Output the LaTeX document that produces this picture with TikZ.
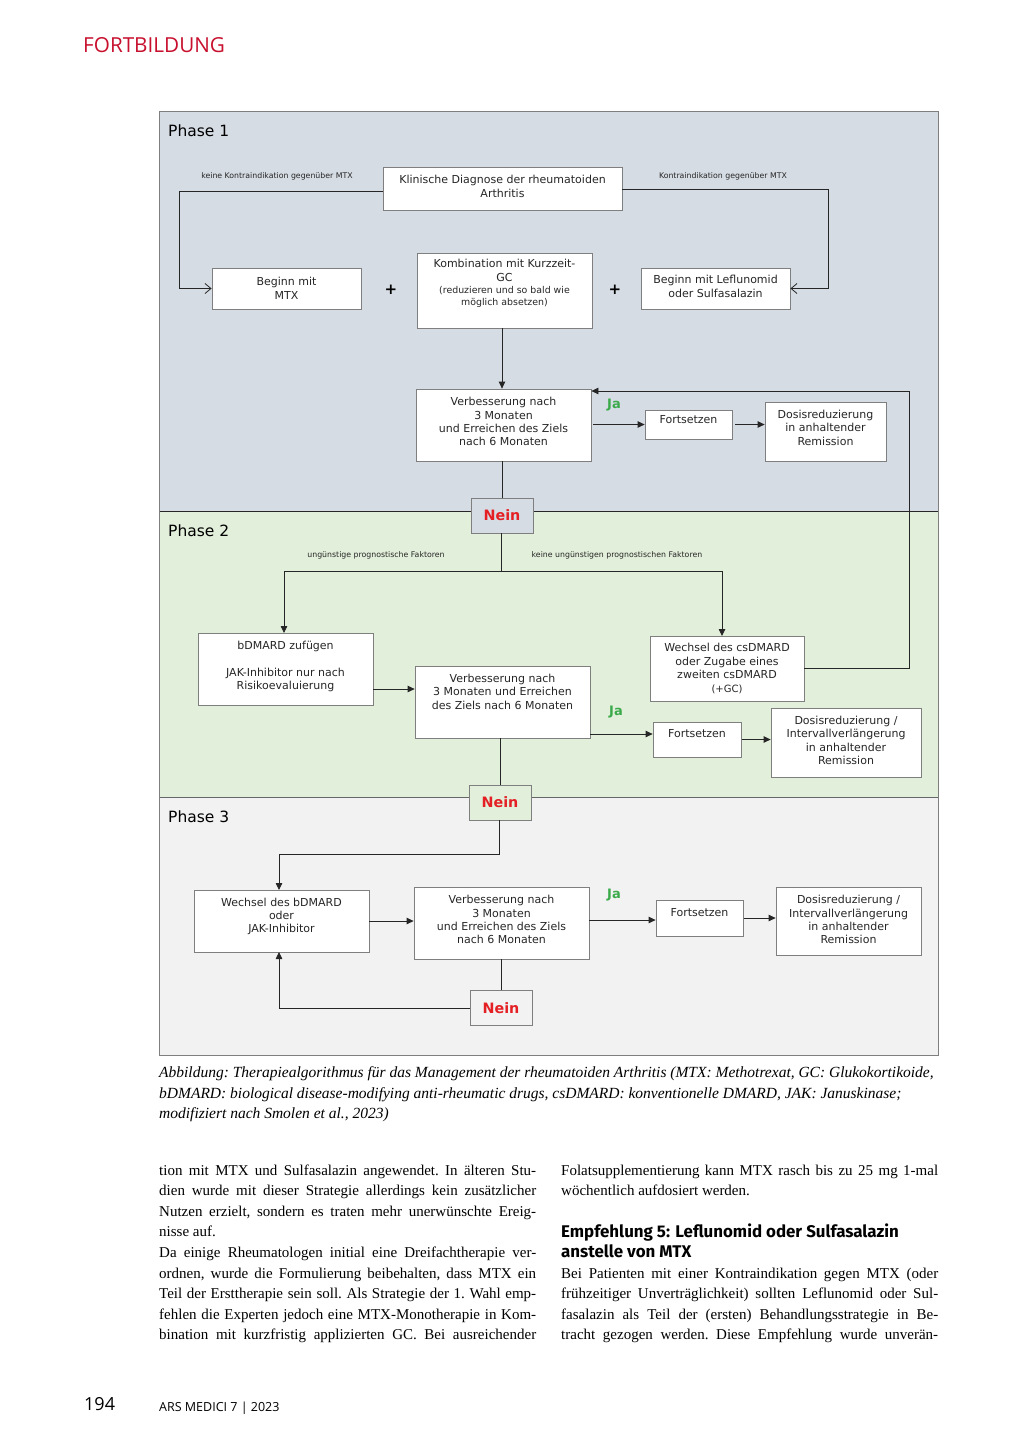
\documentclass[tikz,border=0pt]{standalone}
\usepackage{fontspec}
\setmainfont{Liberation Serif}
\newfontfamily\dfont{DejaVu Sans}
\newfontfamily\hfont{Fira Sans}
\newfontfamily\ofont{Open Sans}
\usetikzlibrary{arrows.meta,calc}
\definecolor{pone}{HTML}{D6DCE4}
\definecolor{ptwo}{HTML}{E2EFDA}
\definecolor{pthree}{HTML}{F2F2F2}
\definecolor{boxgray}{HTML}{7F7F7F}
\definecolor{linec}{HTML}{262626}
\definecolor{neinred}{HTML}{E42025}
\definecolor{jagreen}{HTML}{3BAA4B}
\definecolor{headred}{HTML}{C8102E}
\newcommand\myjl[1]{\makebox[377pt][s]{#1}}
\newcommand\smtxt[1]{{\fontsize{9.4}{12}\selectfont #1}}
\begin{document}
\begin{tikzpicture}[x=1pt,y=-1pt,
  box/.style={draw=boxgray, line width=0.8pt, fill=white, inner sep=1pt, align=center,
    font=\dfont\fontsize{11}{13.4}\selectfont, text=black!85},
  neinbox/.style={draw=boxgray, line width=0.8pt, inner sep=0pt, minimum width=62pt,
    minimum height=35pt, font=\dfont\bfseries\fontsize{14.3}{16}\selectfont, text=neinred},
  conn/.style={draw=linec, line width=0.8pt},
  arr/.style={conn, -{Triangle[length=7pt,width=6.5pt]}},
  oarr/.style={conn, -{Straight Barb[length=6pt,width=10pt]}},
  smalllbl/.style={font=\dfont\fontsize{7.8}{9}\selectfont, text=black!85, inner sep=0pt},
  ja/.style={font=\dfont\bfseries\fontsize{13}{14}\selectfont, text=jagreen, inner sep=0pt},
  plus/.style={font=\dfont\bfseries\fontsize{15}{15}\selectfont, inner sep=0pt},
  phase/.style={font=\dfont\fontsize{15.5}{17}\selectfont, anchor=west, inner sep=0pt},
  body/.style={font=\frenchspacing\fontsize{15}{20}\selectfont, anchor=base west, inner sep=0pt},
  capt/.style={font=\frenchspacing\itshape\fontsize{15.5}{20}\selectfont, anchor=base west, inner sep=0pt}
]
\useasboundingbox[fill=white] (0,0) rectangle (1024,1448);

% header
\node[anchor=west, font=\ofont\fontsize{20.7}{22}\selectfont, text=headred, inner sep=0pt] (hdr) at (83,45) {FORTBILDUNG};

% phase backgrounds
\fill[pone] (159,111) rectangle (938,511);
\fill[ptwo] (159,511) rectangle (938,797);
\fill[pthree] (159,797) rectangle (938,1055);
\draw[linec, line width=0.8pt] (159,511) -- (938,511);
\draw[linec!70, line width=0.8pt] (159,797) -- (938,797);
\draw[boxgray, line width=1pt] (159,111) rectangle (938,1055);

\node[phase] (ph1) at (168,131) {Phase 1};
\node[phase] (ph2) at (168,531) {Phase 2};
\node[phase] (ph3) at (168,817) {Phase 3};

% Phase 1
\node[box, minimum width=239pt, minimum height=43pt] (diag) at (502.5,188.5)
  {Klinische Diagnose der rheumatoiden\\Arthritis\\[-8.8pt]\mbox{}};
\node[box, minimum width=149pt, minimum height=41pt] (mtx) at (286.5,288.5)
  {Beginn mit\\MTX\\[-12.8pt]\mbox{}};
\node[box, minimum width=175pt, minimum height=75pt] (komb) at (504.5,290.5)
  {Kombination mit Kurzzeit-\\GC\\[-1.5pt]\smtxt{(reduzieren und so bald wie}\\[-1.5pt]\smtxt{m\"oglich absetzen)}\\[3pt]\mbox{}};
\node[box, minimum width=149pt, minimum height=41pt] (lef) at (715.5,288.5)
  {Beginn mit Leflunomid\\oder Sulfasalazin\\[-8.8pt]\mbox{}};
\node[plus] (pl1) at (391,290) {+};
\node[plus] (pl2) at (615,290) {+};
\node[smalllbl] (l1) at (277,176) {keine Kontraindikation gegen\"uber MTX};
\node[smalllbl] (l2) at (723,176) {Kontraindikation gegen\"uber MTX};
\coordinate (cl) at (179,191);
\coordinate (cr) at (828,189);
\draw[oarr] (diag.west |- cl) -- (cl) |- (mtx.west);
\draw[oarr] (diag.east |- cr) -- (cr) |- (lef.east);

\node[box, minimum width=175pt, minimum height=72pt] (v1) at (503.5,425)
  {Verbesserung nach\\3 Monaten\\und Erreichen des Ziels\\nach 6 Monaten\\[-6.8pt]\mbox{}};
\draw[arr] (komb.south -| 502,0) -- (v1.north -| 502,0);
\node[box, minimum width=87pt, minimum height=29pt] (f1) at (688.5,424.5) {Fortsetzen\\[-4pt]\mbox{}};
\node[box, minimum width=121pt, minimum height=59pt] (d1) at (825.5,431.5)
  {Dosisreduzierung\\in anhaltender\\Remission\\[-6pt]\mbox{}};
\node[ja] (ja1) at (614,405) {Ja};
\draw[arr, shorten <=2pt] (v1.east |- f1.west) -- (f1.west);
\draw[arr, shorten <=3pt] (f1.east) -- (d1.west |- f1.east);

\node[neinbox, fill=pone] (n1) at (502,515.5) {Nein};
\draw[conn] (n1.north |- v1.south) -- (n1.north);

% Phase 2
\node[box, minimum width=175pt, minimum height=72pt] (bd) at (285.5,669)
  {bDMARD zuf\"ugen\\[13.4pt]JAK-Inhibitor nur nach\\Risikoevaluierung\\[-6.8pt]\mbox{}};
\node[box, minimum width=175pt, minimum height=72pt] (v2) at (502.5,702)
  {Verbesserung nach\\3 Monaten und Erreichen\\des Ziels nach 6 Monaten\\[7.5pt]\mbox{}};
\node[box, minimum width=154pt, minimum height=65pt] (ws) at (727,668.5)
  {Wechsel des csDMARD\\oder Zugabe eines\\zweiten csDMARD\\{\fontsize{10}{13}\selectfont(+GC)}};
\node[box, minimum width=88pt, minimum height=35pt] (f2) at (697,739.5) {Fortsetzen\\[-2pt]\mbox{}};
\node[box, minimum width=150pt, minimum height=69pt] (d2) at (846,742.5)
  {Dosisreduzierung /\\Intervallverl\"angerung\\in anhaltender\\Remission\\[-8.8pt]\mbox{}};
\node[ja] (ja2) at (616,712) {Ja};
\node[smalllbl] (l3) at (376,555) {ung\"unstige prognostische Faktoren};
\node[smalllbl] (l4) at (617,555) {keine ung\"unstigen prognostischen Faktoren};

\coordinate (s1) at (501,571);
\coordinate (rt) at (909,391);
\draw[conn] (n1.south -| s1) -- (s1);
\draw[arr] (s1) -| (284,633);
\draw[arr] (s1) -| (722,636);
\draw[arr] (ws.east) -| (rt) -- (v1.east |- rt);

\coordinate (a2) at (0,689);
\coordinate (a3) at (0,734);
\draw[arr] (bd.east |- a2) -- (v2.west |- a2);
\draw[arr] (v2.east |- a3) -- (f2.west |- a3);
\draw[arr, shorten <=1pt] (f2.east) -- (d2.west |- f2.east);

\node[neinbox, fill=ptwo] (n2) at (500,802.5) {Nein};
\draw[conn] (n2.north |- v2.south) -- (n2.north);

% Phase 3
\node[box, minimum width=175pt, minimum height=62pt] (wb) at (281.5,921)
  {Wechsel des bDMARD\\oder\\JAK-Inhibitor\\[-2pt]\mbox{}};
\node[box, minimum width=175pt, minimum height=72pt] (v3) at (501.5,923)
  {Verbesserung nach\\3 Monaten\\und Erreichen des Ziels\\nach 6 Monaten\\[-6.8pt]\mbox{}};
\node[box, minimum width=87pt, minimum height=36pt] (f3) at (699.5,918) {Fortsetzen\\[-2pt]\mbox{}};
\node[box, minimum width=145pt, minimum height=68pt] (d3) at (848.5,921)
  {Dosisreduzierung /\\Intervallverl\"angerung\\in anhaltender\\Remission\\[-10.8pt]\mbox{}};
\node[ja] (ja3) at (614,895) {Ja};
\node[neinbox, fill=pthree] (n3) at (501,1008) {Nein};

\coordinate (s2) at (499,854);
\draw[arr] (n2.south -| s2) -- (s2) -| (279,890);
\draw[arr] (wb.east) -- (v3.west |- wb.east);
\draw[arr] (v3.east |- 0,920) -- (f3.west |- 0,920);
\draw[arr, shorten <=1pt] (f3.east) -- (d3.west |- f3.east);
\draw[conn] (n3.north |- v3.south) -- (n3.north);
\draw[arr] (n3.west) -| (279,952);

% caption
\node[capt] (c1) at (159,1077) {Abbildung: Therapiealgorithmus f\"ur das Management der rheumatoiden Arthritis (MTX: Methotrexat, GC: Glukokortikoide,};
\node[capt] (c2) at (159,1098) {bDMARD: biological disease-modifying anti-rheumatic drugs, csDMARD: konventionelle DMARD, JAK: Januskinase;};
\node[capt] (c3) at (159,1118) {modifiziert nach Smolen et al., 2023)};

% body left
\node[body] (b1) at (159,1175) {\myjl{tion mit MTX und Sulfasalazin angewendet. In \"alteren Stu-}};
\node[body] (b2) at (159,1195.6) {\myjl{dien wurde mit dieser Strategie allerdings kein zus\"atzlicher}};
\node[body] (b3) at (159,1216.2) {\myjl{Nutzen erzielt, sondern es traten mehr unerw\"unschte Ereig-}};
\node[body] (b4) at (159,1236.8) {nisse auf.};
\node[body] (b5) at (159,1257.4) {\myjl{Da einige Rheumatologen initial eine Dreifachtherapie ver-}};
\node[body] (b6) at (159,1278) {\myjl{ordnen, wurde die Formulierung beibehalten, dass MTX ein}};
\node[body] (b7) at (159,1298.6) {\myjl{Teil der Ersttherapie sein soll. Als Strategie der 1. Wahl emp-}};
\node[body] (b8) at (159,1319.2) {\myjl{fehlen die Experten jedoch eine MTX-Monotherapie in Kom-}};
\node[body] (b9) at (159,1339.8) {\myjl{bination mit kurzfristig applizierten GC. Bei ausreichender}};

% body right
\node[body] (r1) at (561,1175) {\myjl{Folatsupplementierung kann MTX rasch bis zu 25 mg 1-mal}};
\node[body] (r2) at (561,1195.6) {w\"ochentlich aufdosiert werden.};
\node[body, font=\hfont\bfseries\fontsize{16.9}{20}\selectfont] (h1) at (561,1237.5) {Empfehlung 5: Leflunomid oder Sulfasalazin};
\node[body, font=\hfont\bfseries\fontsize{16.9}{20}\selectfont] (h2) at (561,1257.5) {anstelle von MTX};
\node[body] (r3) at (561,1278) {\myjl{Bei Patienten mit einer Kontraindikation gegen MTX (oder}};
\node[body] (r4) at (561,1298.6) {\myjl{fr\"uhzeitiger Unvertr\"aglichkeit) sollten Leflunomid oder Sul-}};
\node[body] (r5) at (561,1319.2) {\myjl{fasalazin als Teil der (ersten) Behandlungsstrategie in Be-}};
\node[body] (r6) at (561,1339.8) {\myjl{tracht gezogen werden. Diese Empfehlung wurde unver\"an-}};

% footer
\node[anchor=base west, inner sep=0pt, font=\ofont\fontsize{18}{20}\selectfont] (pg) at (84,1410) {194};
\node[anchor=base west, inner sep=0pt, font=\ofont\fontsize{12.5}{15}\selectfont] (jr) at (159,1411) {ARS MEDICI 7 | 2023};
\end{tikzpicture}
\end{document}
